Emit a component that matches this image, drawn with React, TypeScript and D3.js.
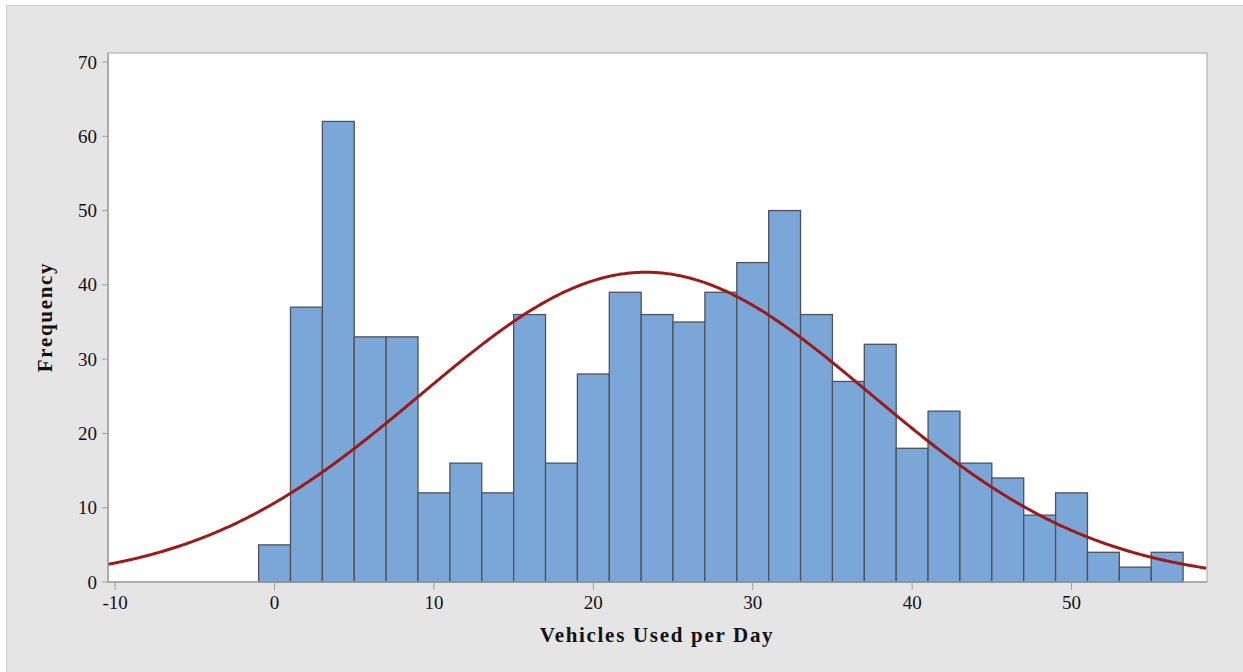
import React from "react";
import * as d3 from "d3";

const binCenters = [0, 2, 4, 6, 8, 10, 12, 14, 16, 18, 20, 22, 24, 26, 28, 30, 32, 34, 36, 38, 40, 42, 44, 46, 48, 50, 52, 54, 56];
const frequencies = [5, 37, 62, 33, 33, 12, 16, 12, 36, 16, 28, 39, 36, 35, 39, 43, 50, 36, 27, 32, 18, 23, 16, 14, 9, 12, 4, 2, 4];
const binWidth = 2;
const xTicks = [-10, 0, 10, 20, 30, 40, 50];
const yTicks = [0, 10, 20, 30, 40, 50, 60, 70];
const fitMean = 23.3;
const fitSd = 14.1;
const fitPeak = 41.7;

const W = 1243, H = 672;
const L = 108, R = 1207, T = 53, B = 582;

export default function App() {
  const x = d3.scaleLinear().domain([-10.45, 58.5]).range([L, R]);
  const y = d3.scaleLinear().domain([0, 70]).range([B, B - 520]);
  const pts = d3.range(-10.45, 58.51, 0.1).map((v) => [v, fitPeak * Math.exp(-0.5 * ((v - fitMean) / fitSd) ** 2)]);
  const line = d3.line<number[]>().x((d) => x(d[0])).y((d) => y(d[1]));
  const font = "Liberation Serif, Times New Roman, serif";
  return (
    <svg width={W} height={H} style={{ position: "absolute", left: 0, top: 0 }}>
      <rect x={6.5} y={5.5} width={W - 6} height={H - 5} fill="#e5e5e5" stroke="#cdcdcd" />
      <rect x={L} y={T} width={R - L} height={B - T} fill="#fff" stroke="#a6a6a6" />
      {binCenters.map((c, i) => (
        <rect key={i} x={x(c - binWidth / 2)} y={y(frequencies[i])} width={x(c + binWidth / 2) - x(c - binWidth / 2)} height={y(0) - y(frequencies[i])} fill="#7ba7d8" stroke="#4f5157" strokeWidth={1.3} />
      ))}
      <path d={line(pts) || ""} fill="none" stroke="#9b1a1a" strokeWidth={3} />
      <line x1={L} x2={L} y1={T} y2={B} stroke="#a0a0a0" strokeWidth={1.5} />
      <line x1={L} x2={R} y1={B} y2={B} stroke="#a0a0a0" strokeWidth={1.5} />
      {yTicks.map((t) => (
        <g key={t}>
          <line x1={L - 6} x2={L} y1={y(t)} y2={y(t)} stroke="#a0a0a0" />
          <text x={L - 11} y={y(t) + 6.5} textAnchor="end" fontFamily={font} fontSize={19} fill="#111">{t}</text>
        </g>
      ))}
      {xTicks.map((t) => (
        <g key={t}>
          <line x1={x(t)} x2={x(t)} y1={B} y2={B + 8} stroke="#a0a0a0" />
          <text x={x(t)} y={B + 27} textAnchor="middle" fontFamily={font} fontSize={19} fill="#111">{t}</text>
        </g>
      ))}
      <text x={657} y={642} textAnchor="middle" fontFamily={font} fontSize={21} fontWeight="bold" letterSpacing={1.7} fill="#111">Vehicles Used per Day</text>
      <text transform={`translate(52,317) rotate(-90)`} textAnchor="middle" fontFamily={font} fontSize={21} fontWeight="bold" letterSpacing={1.7} fill="#111">Frequency</text>
    </svg>
  );
}
